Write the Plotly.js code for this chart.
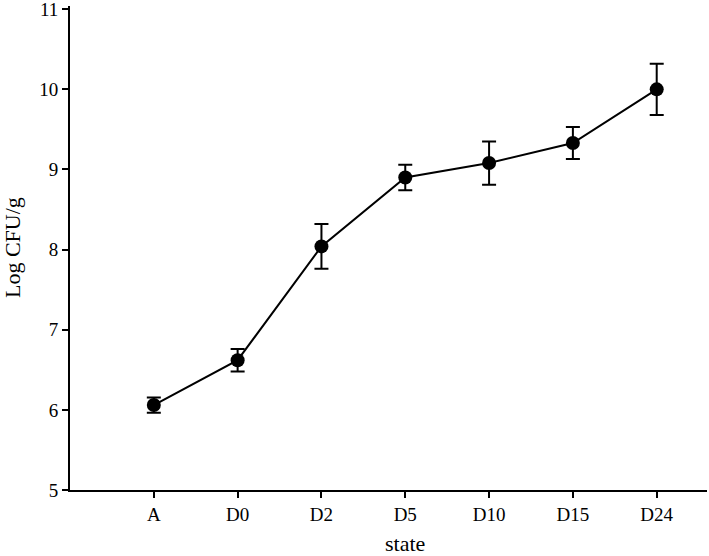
<!DOCTYPE html>
<html><head><meta charset="utf-8">
<script src="https://cdn.plot.ly/plotly-3.0.1.min.js"></script>
<style>html,body{margin:0;padding:0;background:#fff}</style>
</head><body>
<div id="chart" style="width:709px;height:556px"></div>
<script>
const categories = ["A","D0","D2","D5","D10","D15","D24"];
const logCFU = [6.06, 6.62, 8.04, 8.90, 9.08, 9.33, 10.00];
const errors = [0.095, 0.14, 0.28, 0.16, 0.27, 0.20, 0.32];
const yTicks = [5, 6, 7, 8, 9, 10, 11];

const trace = {
  x: categories.map((c,i)=>i),
  y: logCFU,
  mode: "lines+markers",
  type: "scatter",
  line: {color: "#000", width: 2},
  marker: {color: "#000", size: 14},
  error_y: {type: "data", array: errors, visible: true, color: "#000", thickness: 2, width: 7},
  hoverinfo: "skip",
  cliponaxis: false
};
const layout = {
  width: 709, height: 556,
  margin: {l: 70, r: 2, t: 6, b: 66, autoexpand: false},
  paper_bgcolor: "#fff", plot_bgcolor: "#fff",
  showlegend: false,
  font: {family: "Liberation Serif, Times New Roman, serif", color: "#000", size: 19},
  xaxis: {
    range: [-1, 6.6], tickmode: "array", tickvals: categories.map((c,i)=>i), ticktext: categories,
    showgrid: false, zeroline: false, showline: true, linecolor: "#000", linewidth: 2,
    ticks: "outside", ticklen: 6, tickwidth: 2, tickcolor: "#000", automargin: false,
    ticklabeloverflow: "allow"
  },
  yaxis: {
    range: [5, 11.04], tickmode: "array", tickvals: yTicks, ticktext: yTicks.map(String),
    showgrid: false, zeroline: false, showline: true, linecolor: "#000", linewidth: 2,
    ticks: "outside", ticklen: 6, tickwidth: 2, tickcolor: "#000", automargin: false,
    ticklabeloverflow: "allow"
  },
  annotations: [
    {text: "state", x: 3, xref: "x", y: 0, yref: "paper", yshift: -53, showarrow: false,
     font: {size: 22}, xanchor: "center", yanchor: "middle"},
    {text: "Log CFU/g", x: 0, xref: "paper", xshift: -58, y: 0.5, yref: "paper", showarrow: false,
     textangle: -90, font: {size: 22}, xanchor: "center", yanchor: "middle"}
  ]
};
Plotly.newPlot("chart", [trace], layout, {staticPlot: true});
</script>
</body></html>
